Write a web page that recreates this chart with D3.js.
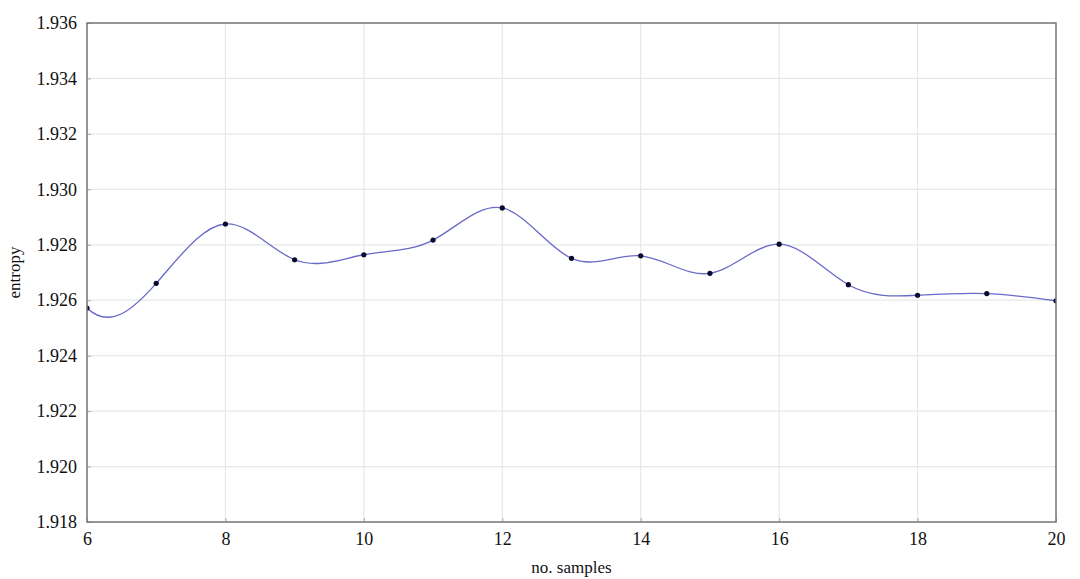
<!DOCTYPE html>
<html>
<head>
<meta charset="utf-8">
<script src="https://cdn.jsdelivr.net/npm/d3@7"></script>
<style>
  body { margin: 0; background: #fff; }
  text { font-family: "Liberation Serif", "DejaVu Serif", serif; fill: #111; }
</style>
</head>
<body>
<svg id="chart" width="1080" height="579"></svg>
<script>
// data (the curve enters from the left, so one estimated
// sample before the visible range shapes the spline and is clipped away)
const samples = [5, 6, 7, 8, 9, 10, 11, 12, 13, 14, 15, 16, 17, 18, 19, 20];
const entropy = [1.9312, 1.92572, 1.92661, 1.92875, 1.92746, 1.92764, 1.92817, 1.92933,
                 1.92751, 1.92760, 1.92697, 1.92802, 1.92656, 1.92618, 1.92624, 1.92598];
const xTicks = [6, 8, 10, 12, 14, 16, 18, 20];
const yTicks = [1.918, 1.920, 1.922, 1.924, 1.926, 1.928, 1.930, 1.932, 1.934, 1.936];

const margin = { top: 23, right: 24, bottom: 57, left: 87 };
const width = 1080, height = 579;

const svg = d3.select("#chart");
const g = svg.append("g").attr("transform", `translate(${margin.left},${margin.top})`);
const w = width - margin.left - margin.right;
const h = height - margin.top - margin.bottom;

const x = d3.scaleLinear().domain([6, 20]).range([0, w]);
const y = d3.scaleLinear().domain([1.918, 1.936]).range([h, 0]);

svg.append("defs").append("clipPath").attr("id", "plot")
  .append("rect").attr("width", w).attr("height", h);

// grid
g.append("g")
  .selectAll("line")
  .data(xTicks)
  .join("line")
  .attr("x1", d => x(d)).attr("x2", d => x(d))
  .attr("y1", 0).attr("y2", h)
  .attr("stroke", "#e8e8e8").attr("stroke-width", 1.2);

g.append("g")
  .selectAll("line")
  .data(yTicks)
  .join("line")
  .attr("x1", 0).attr("x2", w)
  .attr("y1", d => y(d)).attr("y2", d => y(d))
  .attr("stroke", "#e8e8e8").attr("stroke-width", 1.2);

// axes
const xAxis = d3.axisBottom(x).tickValues(xTicks).tickSize(-4).tickPadding(10).tickFormat(d3.format("d"));
const yAxis = d3.axisLeft(y).tickValues(yTicks).tickSize(-4).tickPadding(10).tickFormat(d3.format(".3f"));

g.append("g").attr("transform", `translate(0,${h})`).call(xAxis)
  .call(a => a.select(".domain").remove())
  .call(a => a.selectAll("line").attr("stroke", "#aaa"))
  .call(a => a.selectAll("text").attr("font-size", 18).attr("font-family", "Liberation Serif").attr("fill", "#111"));

g.append("g").call(yAxis)
  .call(a => a.select(".domain").remove())
  .call(a => a.selectAll("line").attr("stroke", "#aaa"))
  .call(a => a.selectAll("text").attr("font-size", 18).attr("font-family", "Liberation Serif").attr("fill", "#111"));

// curve
const pts = samples.map((s, i) => [s, entropy[i]]);
const line = d3.line()
  .x(d => x(d[0]))
  .y(d => y(d[1]))
  .curve(d3.curveNatural);

const plot = g.append("g").attr("clip-path", "url(#plot)");

plot.append("path")
  .datum(pts)
  .attr("d", line)
  .attr("fill", "none")
  .attr("stroke", "#6a6ac8")
  .attr("stroke-width", 1.3);

plot.selectAll("circle")
  .data(pts.filter(d => d[0] >= 6))
  .join("circle")
  .attr("cx", d => x(d[0]))
  .attr("cy", d => y(d[1]))
  .attr("r", 2.6)
  .attr("fill", "#0a0a30");

// frame
g.append("rect")
  .attr("width", w).attr("height", h)
  .attr("fill", "none").attr("stroke", "#777").attr("stroke-width", 1.5);

// titles
svg.append("text")
  .attr("x", margin.left + w / 2)
  .attr("y", 573)
  .attr("text-anchor", "middle")
  .attr("font-size", 17)
  .text("no. samples");

svg.append("text")
  .attr("transform", `translate(20,${margin.top + h / 2}) rotate(-90)`)
  .attr("text-anchor", "middle")
  .attr("font-size", 17)
  .text("entropy");
</script>
</body>
</html>
